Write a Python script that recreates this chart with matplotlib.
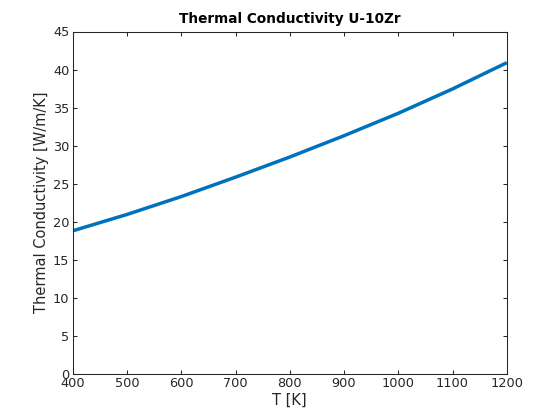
import matplotlib
matplotlib.use("Agg")
import matplotlib.pyplot as plt

T = [400, 500, 600, 700, 800, 900, 1000, 1100, 1200]
k = [18.8, 20.95, 23.3, 25.85, 28.5, 31.3, 34.25, 37.45, 40.9]

xticks = [400, 500, 600, 700, 800, 900, 1000, 1100, 1200]
yticks = [0, 5, 10, 15, 20, 25, 30, 35, 40, 45]

plt.rcParams['font.family'] = ['DejaVu Sans']
dark = '#262626'

fig = plt.figure(figsize=(5.6, 4.2), dpi=100)
ax = fig.add_axes([0.13, 0.11, 0.775, 0.815])
ax.plot(T, k, color='#0072BD', linewidth=2.5, solid_capstyle='butt')
ax.set_xlim(400, 1200)
ax.set_ylim(0, 45)
ax.set_xticks(xticks)
ax.set_yticks(yticks)
ax.tick_params(direction='in', length=3.2, width=0.75, colors=dark,
               labelsize=9.3, top=True, right=True, pad=2.5)
for s in ax.spines.values():
    s.set_color(dark)
    s.set_linewidth(0.75)
ax.set_xlabel('T [K]', fontsize=10.5, color=dark, labelpad=2)
ax.set_ylabel('Thermal Conductivity [W/m/K]', fontsize=10.5, color=dark, labelpad=3)
ax.set_title('Thermal Conductivity U-10Zr', fontsize=9.8, fontweight='bold', color='black', pad=6)
fig.savefig('out.png', dpi=100)
